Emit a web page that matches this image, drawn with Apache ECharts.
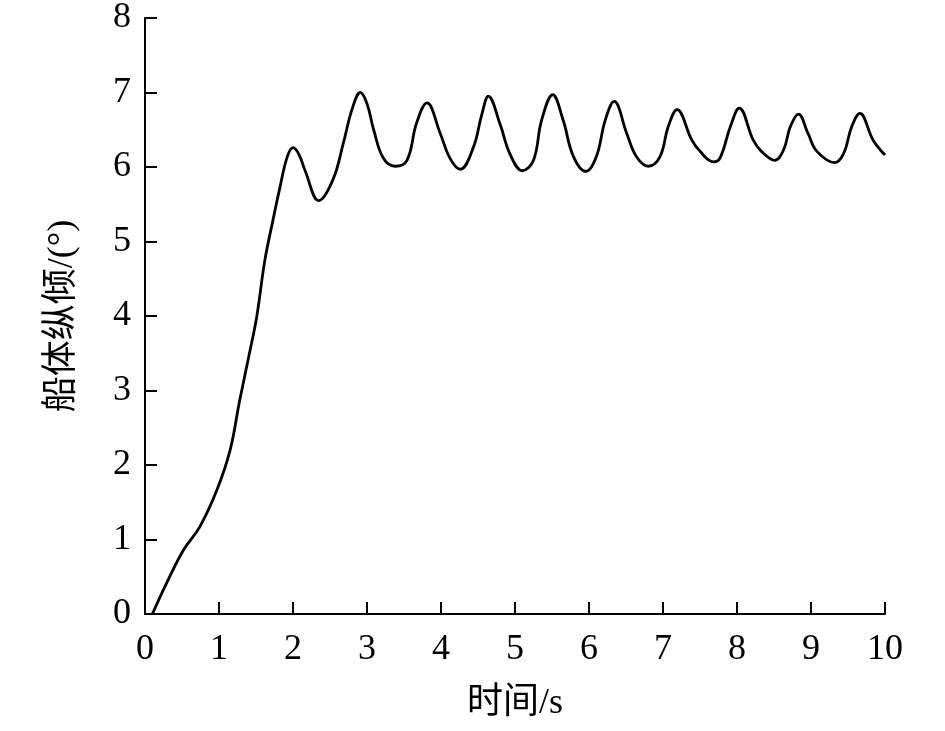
<!DOCTYPE html>
<html>
<head>
<meta charset="utf-8">
<script src="https://cdn.jsdelivr.net/npm/echarts@6/dist/echarts.min.js"></script>
<style>
  html, body { margin: 0; padding: 0; background: #fff; }
  #main { width: 945px; height: 731px; }
</style>
</head>
<body>
<div id="main"></div>
<script>
// 时间 (s)
var timeData = [0.1, 0.29, 0.52, 0.74, 0.97, 1.15, 1.28, 1.42, 1.51, 1.62, 1.73, 1.82, 1.92, 2.0,
  2.08, 2.16, 2.35, 2.54, 2.68, 2.8, 2.91, 3.0, 3.09, 3.22, 3.38, 3.54, 3.67, 3.81,
  3.99, 4.12, 4.26, 4.44, 4.55, 4.64, 4.8, 4.93, 5.1, 5.25, 5.36, 5.51, 5.65, 5.79,
  5.96, 6.1, 6.22, 6.34, 6.51, 6.64, 6.8, 6.96, 7.07, 7.19, 7.39, 7.5, 7.68, 7.77,
  7.91, 8.03, 8.22, 8.33, 8.51, 8.63, 8.72, 8.83, 8.96, 9.08, 9.32, 9.44, 9.55,
  9.66, 9.84, 10.0]
// 船体纵倾 (°)
var pitchData = [0, 0.41, 0.86, 1.17, 1.66, 2.2, 2.87, 3.54, 3.99, 4.75, 5.29, 5.71, 6.13, 6.26,
  6.17, 5.96, 5.55, 5.83, 6.32, 6.78, 7.0, 6.85, 6.5, 6.12, 6.01, 6.09, 6.59, 6.86,
  6.45, 6.12, 5.97, 6.27, 6.7, 6.95, 6.57, 6.18, 5.95, 6.09, 6.63, 6.97, 6.63, 6.14,
  5.94, 6.14, 6.63, 6.88, 6.45, 6.14, 6.01, 6.14, 6.54, 6.77, 6.36, 6.21, 6.07, 6.12,
  6.54, 6.79, 6.36, 6.21, 6.09, 6.23, 6.54, 6.71, 6.45, 6.21, 6.06, 6.18, 6.54,
  6.72, 6.36, 6.16]

var xTicks = [0, 1, 2, 3, 4, 5, 6, 7, 8, 9, 10]
var yTicks = [0, 1, 2, 3, 4, 5, 6, 7, 8]

var points = timeData.map(function (t, i) { return [t, pitchData[i]] })

var font = '"Liberation Serif", "Noto Sans CJK SC", serif'
var axisLine = { show: true, lineStyle: { color: '#000', width: 2 } }
var axisTick = { show: true, inside: true, length: 12, lineStyle: { color: '#000', width: 2 } }

var myChart = echarts.init(document.getElementById('main'))
myChart.setOption({
  animation: false,
  backgroundColor: '#fff',
  grid: { left: 145, right: 60, top: 18, bottom: 117 },
  xAxis: {
    type: 'value',
    min: xTicks[0],
    max: xTicks[xTicks.length - 1],
    interval: 1,
    name: '时间/s',
    nameLocation: 'middle',
    nameGap: 72,
    nameTextStyle: { color: '#000', fontSize: 36, fontFamily: font },
    axisLine: axisLine,
    axisTick: axisTick,
    splitLine: { show: false },
    axisLabel: { color: '#000', fontSize: 36, fontFamily: font, margin: 18 }
  },
  yAxis: {
    type: 'value',
    min: yTicks[0],
    max: yTicks[yTicks.length - 1],
    interval: 1,
    name: '船体纵倾/(°)',
    nameLocation: 'middle',
    nameRotate: 90,
    nameGap: 64,
    nameTextStyle: { color: '#000', fontSize: 36, fontFamily: font },
    axisLine: axisLine,
    axisTick: axisTick,
    splitLine: { show: false },
    axisLabel: { color: '#000', fontSize: 36, fontFamily: font, margin: 14 }
  },
  series: [{
    type: 'line',
    data: points,
    smooth: 0.4,
    symbol: 'none',
    lineStyle: { color: '#000', width: 2.8 }
  }]
})
</script>
</body>
</html>
